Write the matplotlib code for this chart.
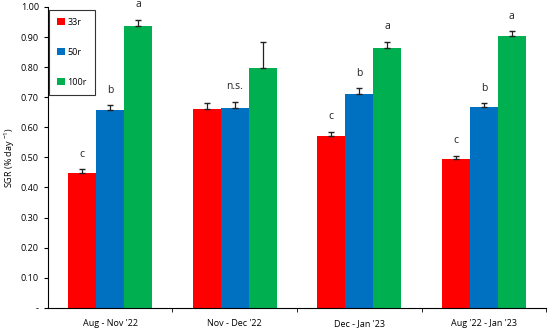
import numpy as np
import matplotlib
matplotlib.use("Agg")
import matplotlib.pyplot as plt
from matplotlib.ticker import FixedLocator

plt.rcParams['font.family'] = ['Open Sans', 'DejaVu Sans']

periods = ["Aug - Nov '22", "Nov - Dec '22", "Dec - Jan '23", "Aug '22 - Jan '23"]
series = ["33r", "50r", "100r"]
sgr_33 = [0.447, 0.660, 0.572, 0.493]
sgr_50 = [0.657, 0.665, 0.712, 0.668]
sgr_100 = [0.937, 0.798, 0.862, 0.903]
err_33 = [0.013, 0.022, 0.013, 0.013]
err_50 = [0.016, 0.020, 0.018, 0.012]
err_100 = [0.020, 0.085, 0.022, 0.016]
letters_33 = ["c", "", "c", "c"]
letters_50 = ["b", "n.s.", "b", "b"]
letters_100 = ["a", "", "a", "a"]

colors = ["#FF0000", "#0070C0", "#00B050"]

fig = plt.figure(figsize=(5.5, 3.31), dpi=100)
ax = fig.add_axes([0.087, 0.07, 0.906, 0.909])

x = np.arange(len(periods))
w = 0.225
vals = [sgr_33, sgr_50, sgr_100]
errs = [err_33, err_50, err_100]
lets = [letters_33, letters_50, letters_100]
for i in range(3):
    xs = x + (i - 1) * w
    ax.bar(xs, vals[i], w, color=colors[i], label=series[i], zorder=2)
    ax.errorbar(xs, vals[i], yerr=[np.zeros(4), errs[i]], fmt="none",
                ecolor="#222222", elinewidth=0.9, capsize=2.2, capthick=1, zorder=3)
    for j in range(4):
        if lets[i][j]:
            ax.text(xs[j], vals[i][j] + errs[i][j] + 0.05, lets[i][j],
                    ha="center", va="center", fontsize=7.5, color="#222222")

ax.set_xlim(-0.5, 3.5)
ax.set_ylim(0, 1.0)
ax.set_yticks(np.arange(0, 1.01, 0.1))
ax.set_yticklabels(["-"] + ["%.2f" % v for v in np.arange(0.1, 1.01, 0.1)], fontsize=6.5)
ax.set_xticks(x)
ax.set_xticklabels(periods, fontsize=6.5)
ax.tick_params(axis="x", which="major", length=0, pad=8)
ax.xaxis.set_minor_locator(FixedLocator([0.5, 1.5, 2.5, 3.5]))
ax.tick_params(axis="x", which="minor", length=3, direction="out")
ax.tick_params(axis="y", length=3, direction="out")
ax.set_ylabel("SGR (% day $^{\\mathregular{-1}}$)", fontsize=6.5, labelpad=3)
for s in ["top", "right"]:
    ax.spines[s].set_visible(False)

leg = ax.legend(loc="upper left", bbox_to_anchor=(-0.006, 1.005), fontsize=6.5,
                labelspacing=2.3, handlelength=0.8, handleheight=0.8,
                handletextpad=0.3, borderpad=0.9, fancybox=False,
                edgecolor="#333333", framealpha=1)
leg.get_frame().set_linewidth(0.8)

fig.savefig("out.png", dpi=100)
